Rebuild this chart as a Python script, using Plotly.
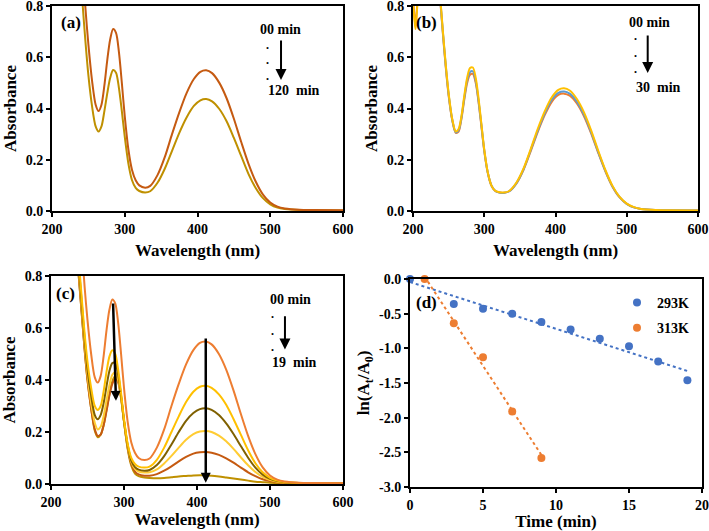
import numpy as np
import plotly.graph_objects as go

FONT = "Liberation Serif"

# ---------------- data ----------------
WL = [238, 242, 246, 250, 255, 260, 264, 268, 272, 276, 280, 284, 288, 292, 296, 300,
      305, 310, 315, 320, 328, 335, 345, 355, 365, 375, 385, 395, 404, 412, 420, 430,
      440, 450, 460, 470, 480, 490, 500, 510, 520, 540, 560, 600]

# panel (a)
A_A_00 = [1.12, 0.96, 0.79, 0.65, 0.51, 0.415, 0.39, 0.415, 0.49, 0.59, 0.67, 0.71, 0.695, 0.62, 0.50, 0.37,
          0.24, 0.16, 0.12, 0.10, 0.091, 0.098, 0.14, 0.21, 0.30, 0.385, 0.46, 0.515, 0.543, 0.549, 0.538, 0.50,
          0.44, 0.36, 0.27, 0.185, 0.115, 0.064, 0.033, 0.017, 0.010, 0.005, 0.004, 0.003]
A_A_120 = [0.98, 0.81, 0.66, 0.53, 0.41, 0.33, 0.31, 0.33, 0.39, 0.46, 0.52, 0.55, 0.54, 0.48, 0.39, 0.29,
           0.185, 0.12, 0.09, 0.078, 0.072, 0.077, 0.11, 0.165, 0.235, 0.305, 0.365, 0.41, 0.432, 0.437, 0.428, 0.398,
           0.35, 0.285, 0.215, 0.145, 0.09, 0.05, 0.026, 0.013, 0.008, 0.004, 0.003, 0.002]

# panel (b)
WL_B_EDGE = [200, 202, 203.5, 205, 207]
B_EDGE_ORANGE = [0.83, 0.76, 0.72, 0.77, 0.85]
B_EDGE_YELLOW = [0.82, 0.75, 0.71, 0.76, 0.84]
A_B_ORANGE = [0.83, 0.69, 0.56, 0.45, 0.355, 0.305, 0.31, 0.36, 0.435, 0.50, 0.532, 0.535, 0.50, 0.425, 0.33, 0.235,
              0.148, 0.099, 0.079, 0.073, 0.071, 0.077, 0.107, 0.16, 0.232, 0.308, 0.375, 0.427, 0.453, 0.458, 0.45, 0.42,
              0.37, 0.303, 0.227, 0.155, 0.095, 0.053, 0.028, 0.014, 0.008, 0.004, 0.003, 0.002]
A_B_BLUE = [0.835, 0.695, 0.565, 0.455, 0.357, 0.307, 0.315, 0.365, 0.442, 0.51, 0.542, 0.545, 0.508, 0.43, 0.335, 0.237,
            0.149, 0.10, 0.08, 0.073, 0.071, 0.077, 0.108, 0.162, 0.236, 0.313, 0.382, 0.435, 0.461, 0.466, 0.458, 0.427,
            0.376, 0.308, 0.23, 0.157, 0.096, 0.054, 0.028, 0.014, 0.008, 0.004, 0.003, 0.002]
A_B_YELLOW = [0.84, 0.70, 0.57, 0.46, 0.36, 0.31, 0.32, 0.37, 0.45, 0.52, 0.558, 0.56, 0.52, 0.44, 0.34, 0.24,
              0.15, 0.10, 0.08, 0.074, 0.072, 0.078, 0.11, 0.165, 0.24, 0.32, 0.39, 0.445, 0.473, 0.479, 0.47, 0.437,
              0.385, 0.315, 0.235, 0.16, 0.098, 0.055, 0.029, 0.015, 0.008, 0.004, 0.003, 0.002]

# panel (c)
A_C_1 = [1.08, 0.92, 0.76, 0.63, 0.50, 0.41, 0.39, 0.415, 0.49, 0.59, 0.67, 0.71, 0.695, 0.62, 0.50, 0.37,
         0.24, 0.16, 0.12, 0.10, 0.092, 0.098, 0.14, 0.21, 0.30, 0.385, 0.46, 0.515, 0.543, 0.548, 0.537, 0.50,
         0.44, 0.36, 0.27, 0.185, 0.115, 0.064, 0.033, 0.017, 0.010, 0.005, 0.004, 0.003]
A_C_2 = [0.86, 0.72, 0.58, 0.47, 0.37, 0.30, 0.285, 0.30, 0.355, 0.43, 0.49, 0.514, 0.50, 0.44, 0.35, 0.25,
         0.155, 0.10, 0.077, 0.067, 0.063, 0.067, 0.093, 0.14, 0.20, 0.26, 0.315, 0.355, 0.374, 0.378, 0.37, 0.345,
         0.305, 0.25, 0.19, 0.13, 0.08, 0.045, 0.024, 0.013, 0.008, 0.004, 0.003, 0.002]
A_C_3 = [0.84, 0.70, 0.56, 0.44, 0.34, 0.265, 0.249, 0.265, 0.31, 0.375, 0.435, 0.465, 0.465, 0.42, 0.34, 0.245,
         0.15, 0.09, 0.065, 0.055, 0.051, 0.054, 0.073, 0.107, 0.152, 0.20, 0.243, 0.273, 0.288, 0.291, 0.285, 0.265,
         0.233, 0.192, 0.146, 0.101, 0.063, 0.036, 0.020, 0.011, 0.007, 0.004, 0.003, 0.002]
A_C_4 = [0.82, 0.68, 0.54, 0.42, 0.31, 0.235, 0.21, 0.22, 0.26, 0.32, 0.38, 0.42, 0.43, 0.40, 0.33, 0.24,
         0.145, 0.085, 0.058, 0.048, 0.044, 0.045, 0.056, 0.079, 0.108, 0.14, 0.17, 0.192, 0.202, 0.204, 0.20, 0.186,
         0.164, 0.135, 0.103, 0.072, 0.046, 0.027, 0.015, 0.009, 0.006, 0.004, 0.003, 0.002]
A_C_5 = [0.80, 0.66, 0.52, 0.40, 0.29, 0.21, 0.185, 0.19, 0.225, 0.28, 0.34, 0.385, 0.405, 0.39, 0.33, 0.24,
         0.14, 0.078, 0.048, 0.037, 0.032, 0.032, 0.038, 0.051, 0.068, 0.087, 0.104, 0.117, 0.122, 0.123, 0.12, 0.112,
         0.099, 0.082, 0.063, 0.045, 0.030, 0.018, 0.011, 0.007, 0.005, 0.003, 0.003, 0.002]
A_C_6 = [0.80, 0.66, 0.52, 0.40, 0.29, 0.205, 0.18, 0.19, 0.225, 0.285, 0.345, 0.395, 0.415, 0.40, 0.335, 0.24,
         0.135, 0.07, 0.04, 0.03, 0.025, 0.023, 0.022, 0.023, 0.026, 0.029, 0.031, 0.033, 0.034, 0.033, 0.032, 0.029,
         0.025, 0.021, 0.017, 0.013, 0.009, 0.007, 0.005, 0.004, 0.003, 0.003, 0.002, 0.002]

# panel (d)
T_293 = [0, 3, 5, 7, 9, 11, 13, 15, 17, 19]
LN_293 = [0.0, -0.36, -0.43, -0.50, -0.62, -0.73, -0.86, -0.97, -1.19, -1.46]
T_313 = [1, 3, 5, 7, 9]
LN_313 = [0.0, -0.64, -1.13, -1.91, -2.58]

WL_TICKS = [200, 300, 400, 500, 600]
ABS_TICKS = [0.0, 0.2, 0.4, 0.6, 0.8]
ABS_TICKTEXT = ["0.0", "0.2", "0.4", "0.6", "0.8"]
T_TICKS = [0, 5, 10, 15, 20]
LN_TICKS = [0.0, -0.5, -1.0, -1.5, -2.0, -2.5, -3.0]
LN_TICKTEXT = ["0.0", "-0.5", "-1.0", "-1.5", "-2.0", "-2.5", "-3.0"]

# ---------------- figure ----------------
fig = go.Figure()
W, H = 709, 531


def spec(x, y, color, xa, ya, width=2):
    fig.add_trace(go.Scatter(x=x, y=y, mode="lines", line=dict(color=color, width=width, shape="spline", smoothing=0.8),
                             xaxis=xa, yaxis=ya, showlegend=False, hoverinfo="skip"))


# (a)
spec(WL, A_A_120, "#BF9000", "x", "y")
spec(WL, A_A_00, "#C55A11", "x", "y")
# (b)
spec(WL_B_EDGE + [None] + WL, B_EDGE_ORANGE + [None] + A_B_ORANGE, "#ED7D31", "x2", "y2")
spec(WL, A_B_BLUE, "#5B9BD5", "x2", "y2")
spec(WL_B_EDGE + [None] + WL, B_EDGE_YELLOW + [None] + A_B_YELLOW, "#FFC000", "x2", "y2")
# (c)
spec(WL, A_C_6, "#BF9000", "x3", "y3")
spec(WL, A_C_5, "#C55A11", "x3", "y3")
spec(WL, A_C_4, "#FFCC33", "x3", "y3")
spec(WL, A_C_3, "#7F6000", "x3", "y3")
spec(WL, A_C_2, "#FFC000", "x3", "y3")
spec(WL, A_C_1, "#ED7D31", "x3", "y3")

# (d)
BLUE, ORANGE = "#4472C4", "#ED7D31"
for t, v, col in [(T_293, LN_293, BLUE), (T_313, LN_313, ORANGE)]:
    k, b = np.polyfit(t, v, 1)
    xs = [min(t), max(t)]
    fig.add_trace(go.Scatter(x=xs, y=[k * xx + b for xx in xs], mode="lines",
                             line=dict(color=col, width=2, dash="dot"), xaxis="x4", yaxis="y4",
                             showlegend=False, hoverinfo="skip"))
for t, v, col, name, grp in [(T_293, LN_293, BLUE, "293K", "g1"), (T_313, LN_313, ORANGE, "313K", "g2")]:
    fig.add_trace(go.Scatter(x=t, y=v, mode="markers", marker=dict(color=col, size=8), name=name,
                             legendgroup=grp, xaxis="x4", yaxis="y4", cliponaxis=False))

tickfont = dict(family=FONT, size=14, color="black", weight="bold")
titlefont = dict(family=FONT, size=17, color="black", weight="bold")


def xax(domain, anchor, rng, tickvals, title, standoff):
    return dict(domain=domain, anchor=anchor, range=rng, tickvals=tickvals, showgrid=False, zeroline=False,
                showline=True, linecolor="black", linewidth=2, mirror=True, ticks="outside", ticklen=4,
                tickwidth=2, tickcolor="black", tickfont=tickfont, automargin=False, ticklabeloverflow="allow",
                title=dict(text=title, font=titlefont, standoff=standoff))


def yax(domain, anchor, rng, tickvals, ticktext, title, standoff):
    return dict(domain=domain, anchor=anchor, range=rng, tickvals=tickvals, ticktext=ticktext, showgrid=False,
                zeroline=False, showline=True, linecolor="black", linewidth=2, mirror=True, ticks="outside",
                ticklen=4, tickwidth=2, tickcolor="black", tickfont=tickfont, automargin=False,
                ticklabeloverflow="allow", title=dict(text=title, font=titlefont, standoff=standoff))


def px_x(a, b):
    return [a / W, b / W]


def px_y(top, bottom):
    return [1 - bottom / H, 1 - top / H]


fig.update_layout(
    width=W, height=H, margin=dict(l=0, r=0, t=0, b=0),
    paper_bgcolor="white", plot_bgcolor="white",
    xaxis=xax(px_x(52, 343), "y", [200, 600], WL_TICKS, "Wavelength (nm)", 8),
    yaxis=yax(px_y(6, 211), "x", [0, 0.8], ABS_TICKS, ABS_TICKTEXT, "Absorbance", 5),
    xaxis2=xax(px_x(413, 698), "y2", [200, 600], WL_TICKS, "Wavelength (nm)", 8),
    yaxis2=yax(px_y(6, 211), "x2", [0, 0.8], ABS_TICKS, ABS_TICKTEXT, "Absorbance", 5),
    xaxis3=xax(px_x(51, 343), "y3", [200, 600], WL_TICKS, "Wavelength (nm)", 1),
    yaxis3=yax(px_y(276, 484), "x3", [0, 0.8], ABS_TICKS, ABS_TICKTEXT, "Absorbance", 5),
    xaxis4=xax(px_x(410, 702), "y4", [0, 20], T_TICKS, "Time (min)", 1),
    yaxis4=yax(px_y(279, 487), "x4", [-3, 0], LN_TICKS, LN_TICKTEXT, "ln(A<sub>t</sub>/A<sub>0</sub>)", 5),
    legend=dict(x=617 / W, y=1 - 287 / H, xanchor="left", yanchor="top", bgcolor="rgba(0,0,0,0)",
                font=dict(family=FONT, size=14, color="black", weight="bold"), tracegroupgap=4,
                traceorder="grouped", itemwidth=30),
)

annfont = dict(family=FONT, size=14, color="black", weight="bold")
labfont = dict(family=FONT, size=17, color="black", weight="bold")
anns = []


def txt(x, y, s, xr, yr, font=annfont, xanchor="center"):
    anns.append(dict(x=x, y=y, xref=xr, yref=yr, text=s, showarrow=False, font=font, xanchor=xanchor,
                     yanchor="middle"))


def arrow(x0, y0, x1, y1, xr, yr, w=2, size=1.1):
    anns.append(dict(x=x1, y=y1, ax=x0, ay=y0, xref=xr, yref=yr, axref=xr, ayref=yr, text="", showarrow=True,
                     arrowhead=2, arrowsize=size, arrowwidth=w, arrowcolor="black", standoff=0, startstandoff=0))


# panel labels
txt(226, 0.734, "(a)", "x", "y", labfont)
txt(219, 0.734, "(b)", "x2", "y2", labfont)
txt(220.5, 0.732, "(c)", "x3", "y3", labfont)
txt(1.14, -0.34, "(d)", "x4", "y4", labfont)

dotfont = dict(family=FONT, size=12, color="black", weight="bold")
# time annotations
for (xr, yr, xc, ytop, xd, yds, xarr, ya0, ya1, xl, yl, lab) in [
    ("x", "y", 513.4, 0.710, 496, [0.648, 0.590, 0.527], 514.8, 0.671, 0.511, 493.7, 0.470, "120&nbsp; min"),
    ("x2", "y2", 532.6, 0.734, 511.6, [0.683, 0.617, 0.554], 529.4, 0.691, 0.539, 510, 0.482, "30&nbsp; min"),
    ("x3", "y3", 527.4, 0.709, 503.7, [0.653, 0.588, 0.527], 520.5, 0.651, 0.517, 499.6, 0.466, "19&nbsp; min"),
]:
    txt(xc, ytop, "00 min", xr, yr)
    for yd in yds:
        txt(xd, yd, ".", xr, yr, font=dotfont)
    arrow(xarr, ya0, xarr, ya1, xr, yr)
    txt(xl, yl, lab, xr, yr, xanchor="left")

# (c) big arrows
arrow(285, 0.70, 289, 0.32, "x3", "y3", w=2.5, size=0.8)
arrow(412, 0.565, 412, 0.005, "x3", "y3", w=2.5, size=0.8)

fig.update_layout(annotations=anns)
fig.write_html("out.html", config={"displayModeBar": False},
               post_script="document.body.style.margin='0';document.body.style.padding='0';")
